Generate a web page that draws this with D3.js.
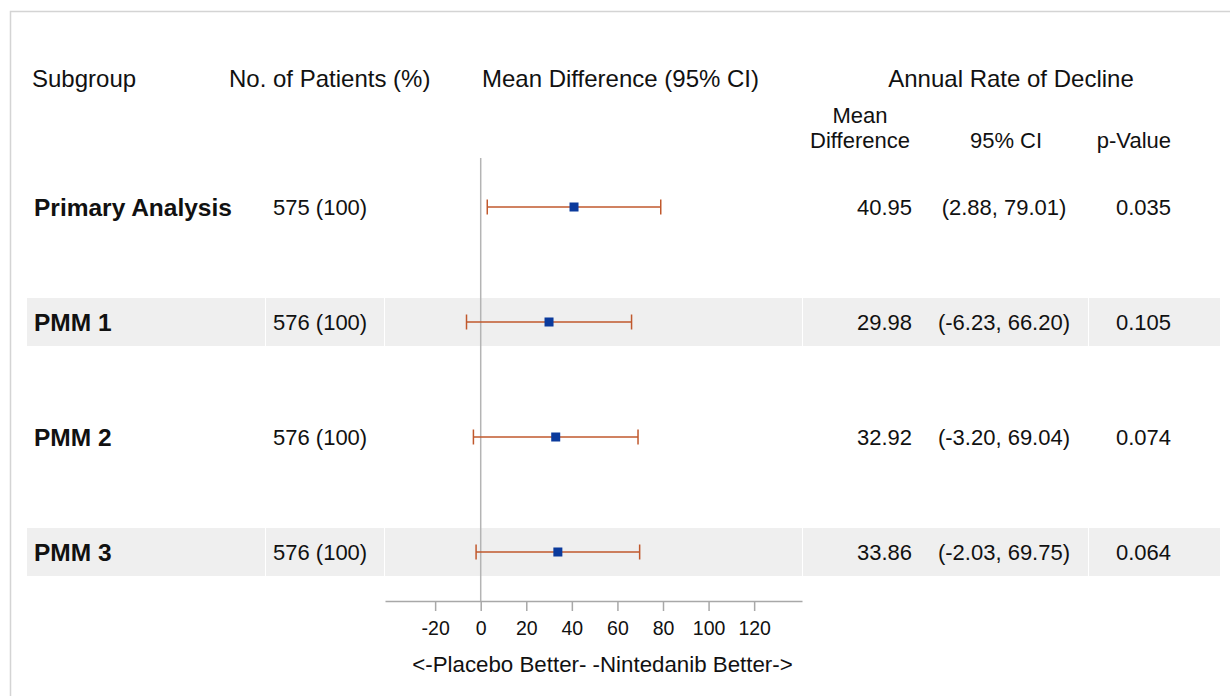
<!DOCTYPE html>
<html>
<head>
<meta charset="utf-8">
<script src="https://cdn.jsdelivr.net/npm/d3@7"></script>
<style>
  body { margin: 0; background: #fff; }
  svg { display: block; font-family: "Liberation Sans", Arial, sans-serif; }
</style>
</head>
<body>
<div id="container"></div>
<script>
// data
var subgroups = ['Primary Analysis', 'PMM 1', 'PMM 2', 'PMM 3'];
var patients = ['575 (100)', '576 (100)', '576 (100)', '576 (100)'];
var meanDiff = [40.95, 29.98, 32.92, 33.86];
var lower = [2.88, -6.23, -3.20, -2.03];
var upper = [79.01, 66.20, 69.04, 69.75];
var pValues = ['0.035', '0.105', '0.074', '0.064'];
var shaded = [false, true, false, true];
var tickValues = [-20, 0, 20, 40, 60, 80, 100, 120];
var xDomain = [-42, 141];

var W = 1230, H = 696;
var svg = d3.select('#container').append('svg')
    .attr('width', W).attr('height', H);

// frame
svg.append('path')
    .attr('d', 'M10.5,' + H + 'V11.5H' + W)
    .attr('fill', 'none').attr('stroke', '#d4d4d4').attr('stroke-width', 1.5);

var x = d3.scaleLinear().domain(xDomain).range([385, 802]);
var y = d3.scalePoint().domain(subgroups).range([207, 552]);

var rows = subgroups.map(function (s, i) {
    return { name: s, n: patients[i], est: meanDiff[i], lo: lower[i], hi: upper[i], p: pValues[i], band: shaded[i] };
});

// shaded bands, split into table cells
var cells = [[27, 265], [266, 384], [385, 802], [803, 1088], [1089, 1220]];
var bandRows = rows.filter(function (d) { return d.band; });
bandRows.forEach(function (d) {
    svg.append('g').selectAll('rect').data(cells).enter().append('rect')
        .attr('x', function (c) { return c[0]; })
        .attr('width', function (c) { return c[1] - c[0]; })
        .attr('y', y(d.name) - 24)
        .attr('height', 48)
        .attr('fill', '#efefef');
});

// headers
var hdr = svg.append('g').attr('fill', '#111').attr('font-size', 24);
hdr.append('text').attr('x', 32).attr('y', 87).text('Subgroup');
hdr.append('text').attr('x', 229).attr('y', 87).text('No. of Patients (%)');
hdr.append('text').attr('x', 482).attr('y', 87).text('Mean Difference (95% CI)');
hdr.append('text').attr('x', 1011).attr('y', 87).attr('text-anchor', 'middle').text('Annual Rate of Decline');

var sub = svg.append('g').attr('fill', '#111').attr('font-size', 22);
sub.append('text').attr('x', 860).attr('y', 123).attr('text-anchor', 'middle').text('Mean');
sub.append('text').attr('x', 860).attr('y', 148).attr('text-anchor', 'middle').text('Difference');
sub.append('text').attr('x', 1006).attr('y', 148).attr('text-anchor', 'middle').text('95% CI');
sub.append('text').attr('x', 1171).attr('y', 148).attr('text-anchor', 'end').text('p-Value');

// reference line at zero
svg.append('line')
    .attr('x1', x(0)).attr('x2', x(0))
    .attr('y1', 158).attr('y2', 601)
    .attr('stroke', '#b4b4b4').attr('stroke-width', 1.5);

// table text
var rowG = svg.append('g').selectAll('g').data(rows).enter().append('g')
    .attr('transform', function (d) { return 'translate(0,' + y(d.name) + ')'; });

rowG.append('text').attr('x', 34).attr('y', 8.5)
    .attr('font-size', 24.5).attr('font-weight', 'bold').attr('fill', '#111')
    .text(function (d) { return d.name; });
rowG.append('text').attr('x', 273).attr('y', 8).attr('font-size', 22).attr('fill', '#111')
    .text(function (d) { return d.n; });
rowG.append('text').attr('x', 912).attr('y', 8).attr('font-size', 22).attr('fill', '#111')
    .attr('text-anchor', 'end')
    .text(function (d) { return d.est.toFixed(2); });
rowG.append('text').attr('x', 1004).attr('y', 8).attr('font-size', 22).attr('fill', '#111')
    .attr('text-anchor', 'middle')
    .text(function (d) { return '(' + d.lo.toFixed(2) + ', ' + d.hi.toFixed(2) + ')'; });
rowG.append('text').attr('x', 1171).attr('y', 8).attr('font-size', 22).attr('fill', '#111')
    .attr('text-anchor', 'end')
    .text(function (d) { return d.p; });

// error bars
var ciColor = '#c0582c';
rowG.append('line')
    .attr('x1', function (d) { return x(d.lo); })
    .attr('x2', function (d) { return x(d.hi); })
    .attr('stroke', ciColor).attr('stroke-width', 1.5);
rowG.append('line')
    .attr('x1', function (d) { return x(d.lo); })
    .attr('x2', function (d) { return x(d.lo); })
    .attr('y1', -7.5).attr('y2', 7.5)
    .attr('stroke', ciColor).attr('stroke-width', 1.5);
rowG.append('line')
    .attr('x1', function (d) { return x(d.hi); })
    .attr('x2', function (d) { return x(d.hi); })
    .attr('y1', -7.5).attr('y2', 7.5)
    .attr('stroke', ciColor).attr('stroke-width', 1.5);
rowG.append('rect')
    .attr('x', function (d) { return x(d.est) - 4.5; })
    .attr('y', -4.5).attr('width', 9).attr('height', 9)
    .attr('fill', '#0b3a9c');

// x axis
var axis = svg.append('g')
    .attr('transform', 'translate(0,601)')
    .call(d3.axisBottom(x).tickValues(tickValues).tickSize(10).tickPadding(10).tickSizeOuter(0)
        .tickFormat(function (d) { return String(d); }));
axis.select('.domain').attr('stroke', '#a8a8a8').attr('stroke-width', 1.5);
axis.selectAll('.tick line').attr('stroke', '#a8a8a8').attr('stroke-width', 1.5);
axis.selectAll('.tick text')
    .attr('font-size', 19.5).attr('fill', '#111')
    .attr('font-family', '"Liberation Sans", Arial, sans-serif');

svg.append('text')
    .attr('x', (x.range()[0] + x.range()[1]) / 2 + 9).attr('y', 672)
    .attr('text-anchor', 'middle').attr('font-size', 22.3).attr('fill', '#111')
    .text('<-Placebo Better- -Nintedanib Better->');
</script>
</body>
</html>
